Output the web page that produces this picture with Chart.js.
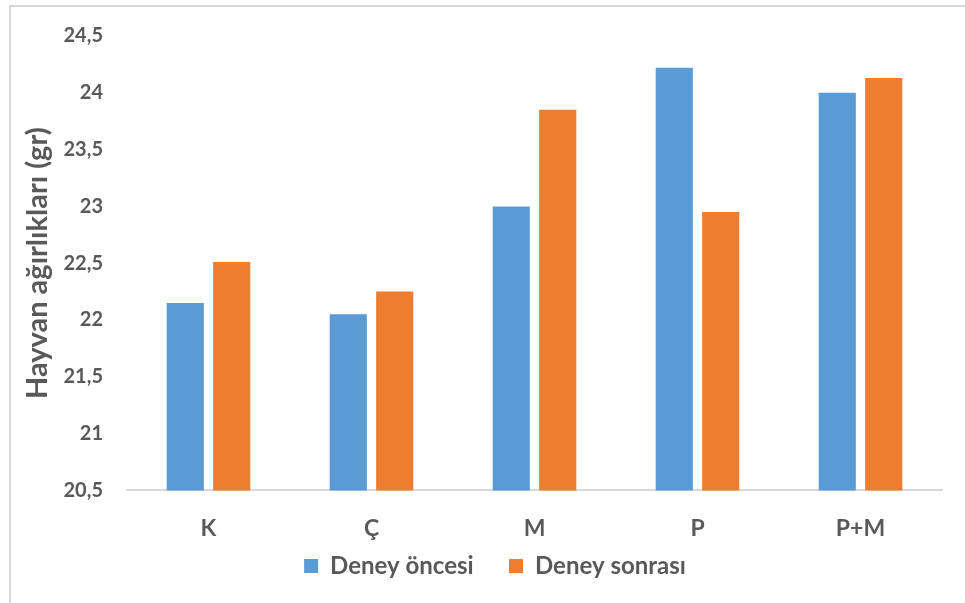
<!DOCTYPE html>
<html>
<head>
<meta charset="utf-8">
<script src="https://cdn.jsdelivr.net/npm/chart.js@4"></script>
<style>
  body { margin: 0; background: #fff; }
  #frame { position: absolute; left: 9px; top: 5px; width: 960px; height: 600px; border: 2px solid #d9d9d9; box-sizing: border-box; }
  #wrap { position: absolute; left: 0; top: 0; width: 965px; height: 603px; }
</style>
</head>
<body>
<div id="frame"></div>
<div id="wrap"><canvas id="myChart"></canvas></div>
<script>
// groups on the x axis
const groups = ["K", "Ç", "M", "P", "P+M"];
// animal weights (gr) before and after the experiment
const beforeValues = [22.15, 22.05, 23.0, 24.22, 24.0];
const afterValues = [22.51, 22.25, 23.85, 22.95, 24.13];
const seriesNames = ["Deney öncesi", "Deney sonrası"];

document.addEventListener("DOMContentLoaded", function () {
  const ctx = document.getElementById("myChart").getContext("2d");
  const textColor = "#595959";

  // legend in the picture sits a bit right of the chart centre
  const shiftLegend = {
    id: "shiftLegend",
    afterLayout: function (chart) {
      chart.legend.left += 14;
      chart.legend.right += 14;
    },
  };

  new Chart(ctx, {
    type: "bar",
    data: {
      labels: groups,
      datasets: [
        {
          label: seriesNames[0],
          data: beforeValues,
          backgroundColor: "#5b9bd5",
          barPercentage: 0.8,
          categoryPercentage: 0.57,
        },
        {
          label: seriesNames[1],
          data: afterValues,
          backgroundColor: "#ed7d31",
          barPercentage: 0.8,
          categoryPercentage: 0.57,
        },
      ],
    },
    plugins: [shiftLegend],
    options: {
      responsive: true,
      maintainAspectRatio: false,
      animation: false,
      layout: { padding: { top: 33, right: 23, bottom: 15, left: 20 } },
      plugins: {
        tooltip: { enabled: false },
        legend: {
          position: "bottom",
          labels: {
            color: textColor,
            boxWidth: 14,
            boxHeight: 14,
            padding: 12,
            font: { family: "Lato", size: 24, weight: "bold" },
            // wider gap between the two legend items
            generateLabels: function (chart) {
              const items = Chart.defaults.plugins.legend.labels.generateLabels(chart);
              items[0].text = items[0].text + "    ";
              return items;
            },
          },
        },
      },
      scales: {
        x: {
          grid: { display: false, drawTicks: false },
          border: { color: "#d9d9d9", width: 2 },
          // labels sit close to the legend, so let them overlap the axis box
          afterFit: function (scale) { scale.height -= 24; },
          ticks: {
            color: textColor,
            padding: 24,
            font: { family: "Lato", size: 23, weight: "bold" },
          },
        },
        y: {
          min: 20.5,
          max: 24.5,
          grid: { display: false, drawTicks: false },
          border: { display: false },
          afterFit: function (scale) { scale.width = 107; },
          ticks: {
            stepSize: 0.5,
            color: textColor,
            padding: 24,
            font: { family: "Lato", size: 20, weight: "bold" },
            callback: function (v) { return String(v).replace(".", ","); },
          },
          title: {
            display: true,
            text: "Hayvan ağırlıkları (gr)",
            color: textColor,
            padding: 0,
            font: { family: "Lato", size: 29, weight: "bold" },
          },
        },
      },
    },
  });
});
</script>
</body>
</html>
